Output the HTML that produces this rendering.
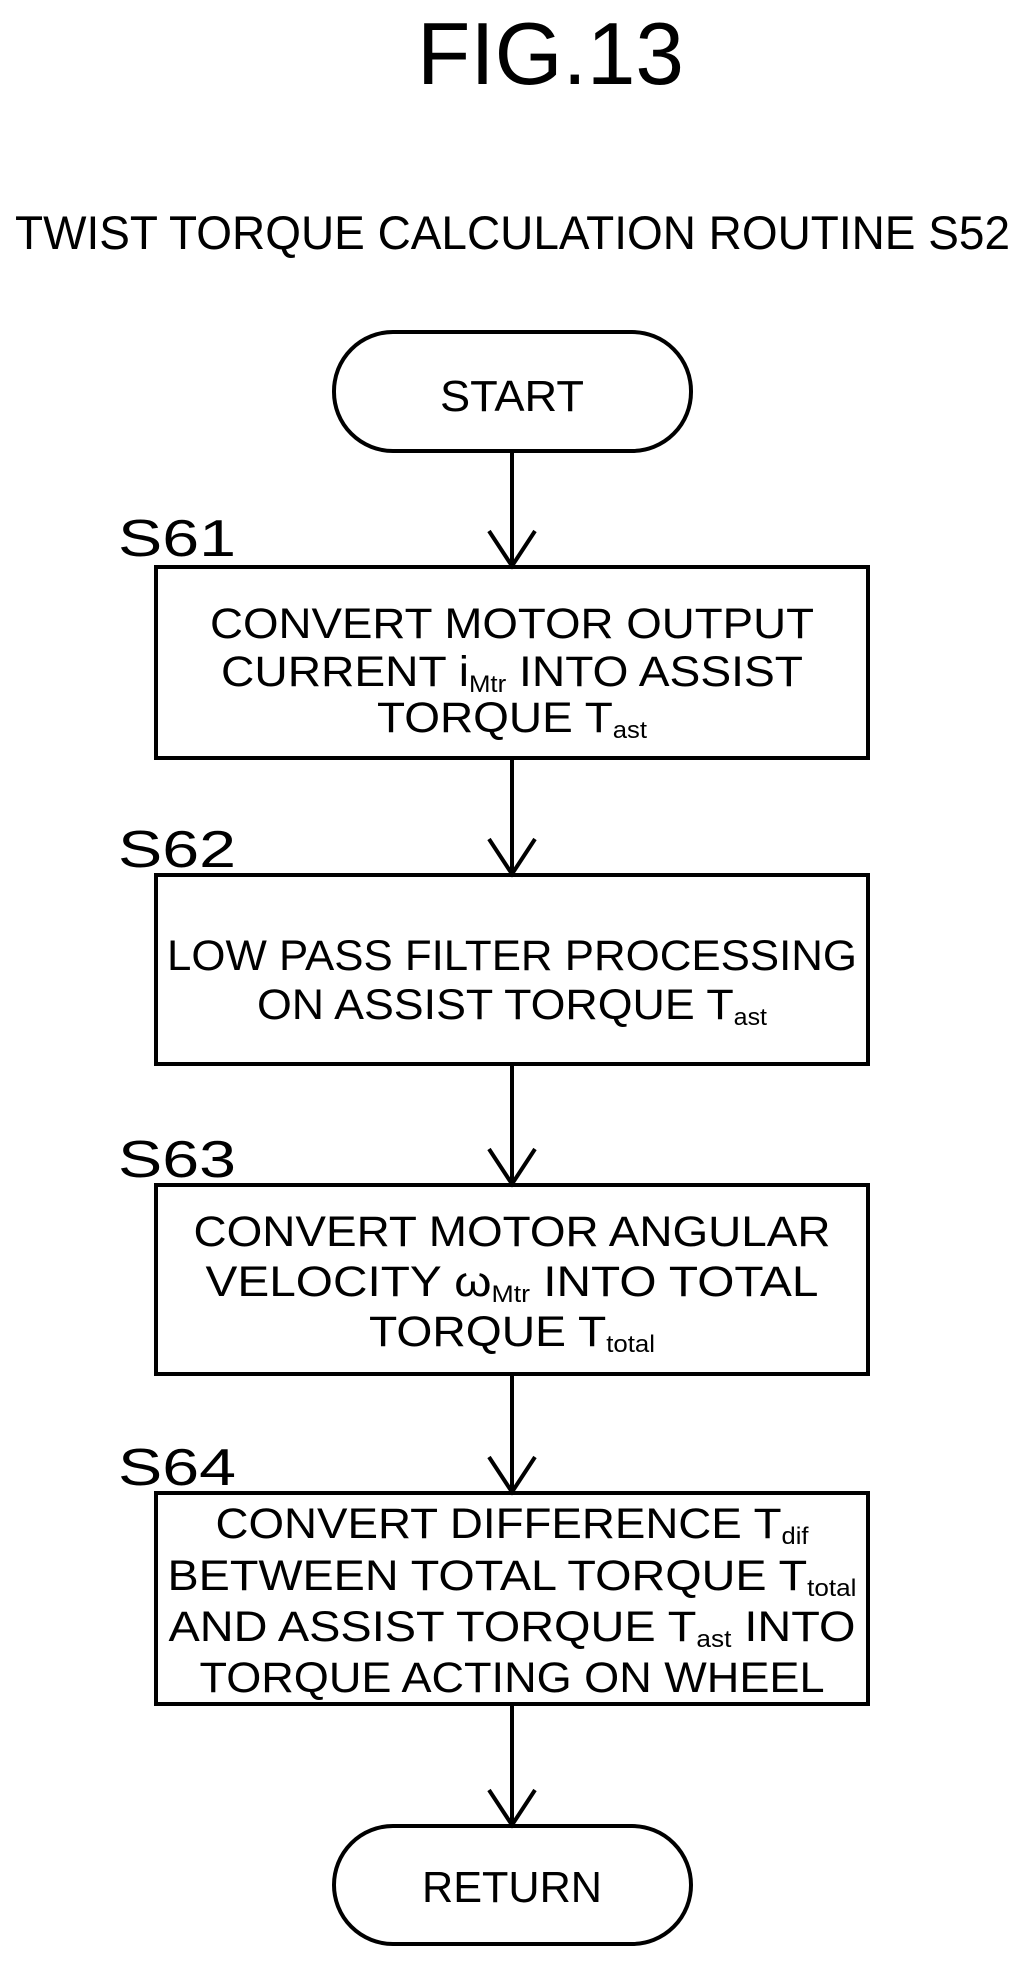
<!DOCTYPE html>
<html><head><meta charset="utf-8"><style>html,body{margin:0;padding:0;background:#fff}svg{display:block}</style></head>
<body>
<svg width="1028" height="1961" viewBox="0 0 1028 1961" xmlns="http://www.w3.org/2000/svg" font-family="Liberation Sans, sans-serif" fill="#000">
<text x="417" y="84" font-size="88" textLength="267" lengthAdjust="spacingAndGlyphs">FIG.13</text>
<text x="15" y="249" font-size="47" textLength="995" lengthAdjust="spacingAndGlyphs">TWIST TORQUE CALCULATION ROUTINE S52</text>

<g fill="none" stroke="#000" stroke-width="4">
<rect x="334" y="332" width="357" height="119" rx="59"/>
<rect x="334" y="1826" width="357" height="118" rx="59"/>
<rect x="156" y="567" width="712" height="191"/>
<rect x="156" y="875" width="712" height="189"/>
<rect x="156" y="1185" width="712" height="189"/>
<rect x="156" y="1493" width="712" height="211"/>
<path d="M512 451V565M489 531L512 566L535 531"/>
<path d="M512 758V873M489 839L512 874L535 839"/>
<path d="M512 1064V1183M489 1149L512 1184L535 1149"/>
<path d="M512 1374V1491M489 1457L512 1492L535 1457"/>
<path d="M512 1704V1824M489 1790L512 1825L535 1790"/>
</g>

<g text-anchor="middle">
<text x="512" y="411" font-size="44" textLength="144" lengthAdjust="spacingAndGlyphs">START</text>
<text x="512" y="1902" font-size="44" textLength="180" lengthAdjust="spacingAndGlyphs">RETURN</text>
</g>

<g font-size="52">
<text x="118" y="556" textLength="118" lengthAdjust="spacingAndGlyphs">S61</text>
<text x="118" y="867" textLength="118" lengthAdjust="spacingAndGlyphs">S62</text>
<text x="118" y="1177" textLength="118" lengthAdjust="spacingAndGlyphs">S63</text>
<text x="118" y="1485" textLength="118" lengthAdjust="spacingAndGlyphs">S64</text>
</g>

<g font-size="43" text-anchor="middle">
<text x="512" y="638" textLength="604" lengthAdjust="spacingAndGlyphs">CONVERT MOTOR OUTPUT</text>
<text x="512" y="686" textLength="582" lengthAdjust="spacingAndGlyphs">CURRENT i<tspan font-size="24" dy="6">Mtr</tspan><tspan dy="-6"> INTO ASSIST</tspan></text>
<text x="512" y="732" textLength="270" lengthAdjust="spacingAndGlyphs">TORQUE T<tspan font-size="24" dy="6">ast</tspan></text>

<text x="512" y="970" textLength="690" lengthAdjust="spacingAndGlyphs">LOW PASS FILTER PROCESSING</text>
<text x="512" y="1019" textLength="510" lengthAdjust="spacingAndGlyphs">ON ASSIST TORQUE T<tspan font-size="24" dy="6">ast</tspan></text>

<text x="512" y="1246" textLength="637" lengthAdjust="spacingAndGlyphs">CONVERT MOTOR ANGULAR</text>
<text x="512" y="1296" textLength="613" lengthAdjust="spacingAndGlyphs">VELOCITY ω<tspan font-size="24" dy="6">Mtr</tspan><tspan dy="-6"> INTO TOTAL</tspan></text>
<text x="512" y="1346" textLength="286" lengthAdjust="spacingAndGlyphs">TORQUE T<tspan font-size="24" dy="6">total</tspan></text>

<text x="512" y="1538" textLength="593" lengthAdjust="spacingAndGlyphs">CONVERT DIFFERENCE T<tspan font-size="24" dy="6">dif</tspan></text>
<text x="512" y="1590" textLength="689" lengthAdjust="spacingAndGlyphs">BETWEEN TOTAL TORQUE T<tspan font-size="24" dy="6">total</tspan></text>
<text x="512" y="1641" textLength="687" lengthAdjust="spacingAndGlyphs">AND ASSIST TORQUE T<tspan font-size="24" dy="6">ast</tspan><tspan dy="-6"> INTO</tspan></text>
<text x="512" y="1692" textLength="625" lengthAdjust="spacingAndGlyphs">TORQUE ACTING ON WHEEL</text>
</g>
</svg>
</body></html>
